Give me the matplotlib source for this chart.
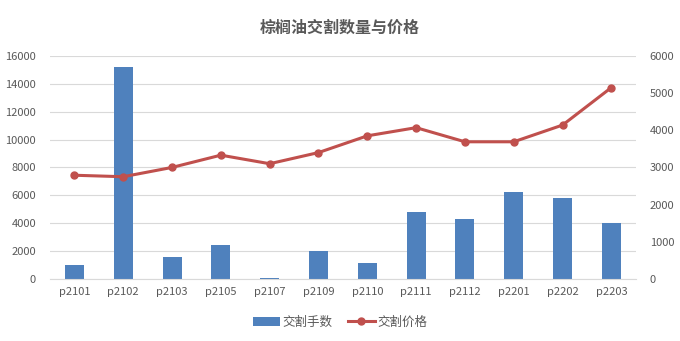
import matplotlib.pyplot as plt
import numpy as np

plt.rcParams['font.family'] = ['Noto Sans CJK SC', 'DejaVu Sans']

contracts = ['p2101', 'p2102', 'p2103', 'p2105', 'p2107', 'p2109',
             'p2110', 'p2111', 'p2112', 'p2201', 'p2202', 'p2203']
lots = [1000, 15200, 1600, 2400, 100, 2000, 1150, 4800, 4300, 6250, 5800, 4000]
prices = [2790, 2750, 3000, 3330, 3100, 3400, 3850, 4070, 3690, 3690, 4140, 5150]

bar_color = '#4F81BD'
line_color = '#C0504D'
text_color = '#595959'
grid_color = '#D9D9D9'

fig = plt.figure(figsize=(6.8, 3.41), dpi=100)
ax1 = fig.add_axes([0.0735, 0.182, 0.8615, 0.654])
ax2 = ax1.twinx()

x = np.arange(len(contracts))
ax1.bar(x, lots, width=0.39, color=bar_color, label='交割手数', zorder=2)
ax2.plot(x, prices, color=line_color, lw=2.2, marker='o', ms=5,
         label='交割价格', zorder=3)

ax1.set_xlim(-0.5, len(contracts) - 0.5)
ax1.set_ylim(0, 16000)
ax2.set_ylim(0, 6000)
ax1.set_yticks(np.arange(0, 16001, 2000))
ax2.set_yticks(np.arange(0, 6001, 1000))
ax1.set_xticks(x)
ax1.set_xticklabels(contracts)

ax1.grid(axis='y', color=grid_color, lw=0.8, zorder=0)
ax1.set_axisbelow(True)
for ax in (ax1, ax2):
    for s in ax.spines.values():
        s.set_visible(False)
    ax.tick_params(length=0, labelsize=8, colors=text_color)
ax1.spines['bottom'].set_visible(True)
ax1.spines['bottom'].set_color(grid_color)
ax1.tick_params(axis='x', pad=6)
ax1.tick_params(axis='y', pad=10)
ax2.tick_params(axis='y', pad=10)

fig.text(0.5, 0.92, '棕榈油交割数量与价格', ha='center', va='center',
         fontsize=11.5, fontweight='bold', color=text_color)

h1, l1 = ax1.get_legend_handles_labels()
h2, l2 = ax2.get_legend_handles_labels()
fig.legend(h1 + h2, l1 + l2, loc='center', bbox_to_anchor=(0.5, 0.055),
           ncol=2, frameon=False, fontsize=9, labelcolor=text_color,
           handlelength=2.2, handletextpad=0.2, columnspacing=1.2)

fig.savefig('out.png', dpi=100)
